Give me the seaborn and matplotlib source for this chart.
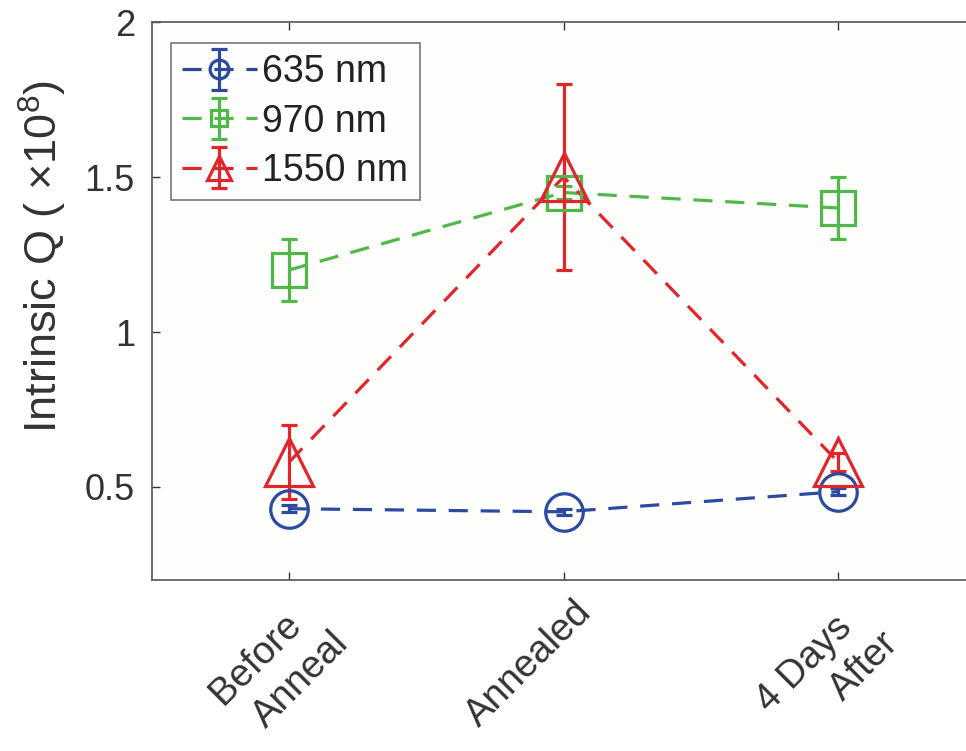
import matplotlib
matplotlib.use("Agg")
import matplotlib.pyplot as plt
import matplotlib.transforms as mtrans
import seaborn as sns
import pandas as pd
from matplotlib.legend_handler import HandlerErrorbar

stages = ["Before\nAnneal", "Annealed", "4 Days\nAfter"]
series = ["635 nm", "970 nm", "1550 nm"]
q635 = [0.43, 0.42, 0.485]
e635 = [0.012, 0.01, 0.012]
q970 = [1.20, 1.45, 1.40]
e970 = [0.10, 0.02, 0.10]
q1550 = [0.58, 1.50, 0.58]
e1550 = [0.12, 0.30, 0.03]

colors = ["#2b4aa0", "#4fb848", "#e0252b"]
markers = ["o", "s", "^"]
msizes = [27, 24, 35]
DASH = (0, (6, 4))

sns.set_theme(style="white")
plt.rcParams["font.family"] = ["Liberation Sans", "DejaVu Sans"]
plt.rcParams["mathtext.fontset"] = "custom"
plt.rcParams["mathtext.rm"] = "Liberation Sans"
plt.rcParams["mathtext.it"] = "Liberation Sans:italic"

fig = plt.figure(figsize=(9.66, 7.51), dpi=100)
ax = fig.add_axes([0.157, 0.2277, 0.853, 0.743])
ax.set_facecolor("#fefefc")

df = pd.DataFrame({
    "Q": q635 + q970 + q1550,
    "series": [s for s in series for _ in stages],
})
df["pos"] = list(range(len(stages))) * 3

sns.lineplot(data=df, x="pos", y="Q", hue="series", palette=colors,
             legend=False, ax=ax, linewidth=2.3, sort=False)
for ln in ax.lines:
    ln.set_linestyle(DASH)

# hidden axes used only to build legend handles (dashed line + marker + errorbar)
hid = fig.add_axes([0, 0, 0.01, 0.01])
hid.set_visible(False)

handles = []
for vals, errs, c, m, ms, lab in zip([q635, q970, q1550], [e635, e970, e1550],
                                      colors, markers, msizes, series):
    ax.errorbar(range(len(stages)), vals, yerr=errs, fmt=m, ms=ms,
                mfc="none", mec=c, mew=2.3, ecolor=c, elinewidth=2.3,
                capsize=5.5, capthick=2.3, ls="none", zorder=3)
    h = hid.errorbar([0], [0], yerr=[1], fmt=m, ms=ms * 0.5, mfc="none",
                     mec=c, mew=2.3, ecolor=c, elinewidth=2.3, capsize=6,
                     capthick=2.3, color=c, ls=DASH, lw=2.3)
    handles.append(h)

ax.set_xlim(-0.5, 2.5)
ax.set_ylim(0.2, 2.0)
ax.set_yticks([0.5, 1, 1.5, 2])
ax.set_yticklabels(["0.5", "1", "1.5", "2"])
ax.set_xticks(range(len(stages)))
shown = [s.replace("\n", "  \n") for s in stages]
ax.set_xticklabels(shown, rotation=45, ha="right", va="top",
                   rotation_mode="anchor", multialignment="right",
                   linespacing=1.3)
ax.tick_params(axis="both", labelsize=26, colors="#333333", direction="in",
               length=6, width=1, bottom=True, left=True, top=True)
ax.tick_params(axis="x", pad=0, labelsize=27.5)
ax.tick_params(axis="y", pad=12)
off = mtrans.ScaledTranslation(10 / 100, -14 / 100, fig.dpi_scale_trans)
for lbl in ax.get_xticklabels():
    lbl.set_transform(lbl.get_transform() + off)

ax.set_ylabel(r"Intrinsic Q ( $\times$10$^8$)", fontsize=32.5, color="#333333")
ax.yaxis.set_label_coords(-0.1, 0.58)
ax.set_xlabel("")
for s in ax.spines.values():
    s.set_color("#555555")
    s.set_linewidth(1.2)

leg = ax.legend(handles, series, loc="upper left", fontsize=27, frameon=True,
                fancybox=False, edgecolor="#555555", borderpad=0.3,
                borderaxespad=0, handlelength=2.0, handletextpad=0.15,
                labelspacing=0.35, bbox_to_anchor=(0.023, 0.962),
                handler_map={type(handles[0]): HandlerErrorbar(yerr_size=0.55)})
leg.get_frame().set_linewidth(1.2)
for t in leg.get_texts():
    t.set_color("#222222")

fig.savefig("out.png", dpi=100, facecolor="white")
